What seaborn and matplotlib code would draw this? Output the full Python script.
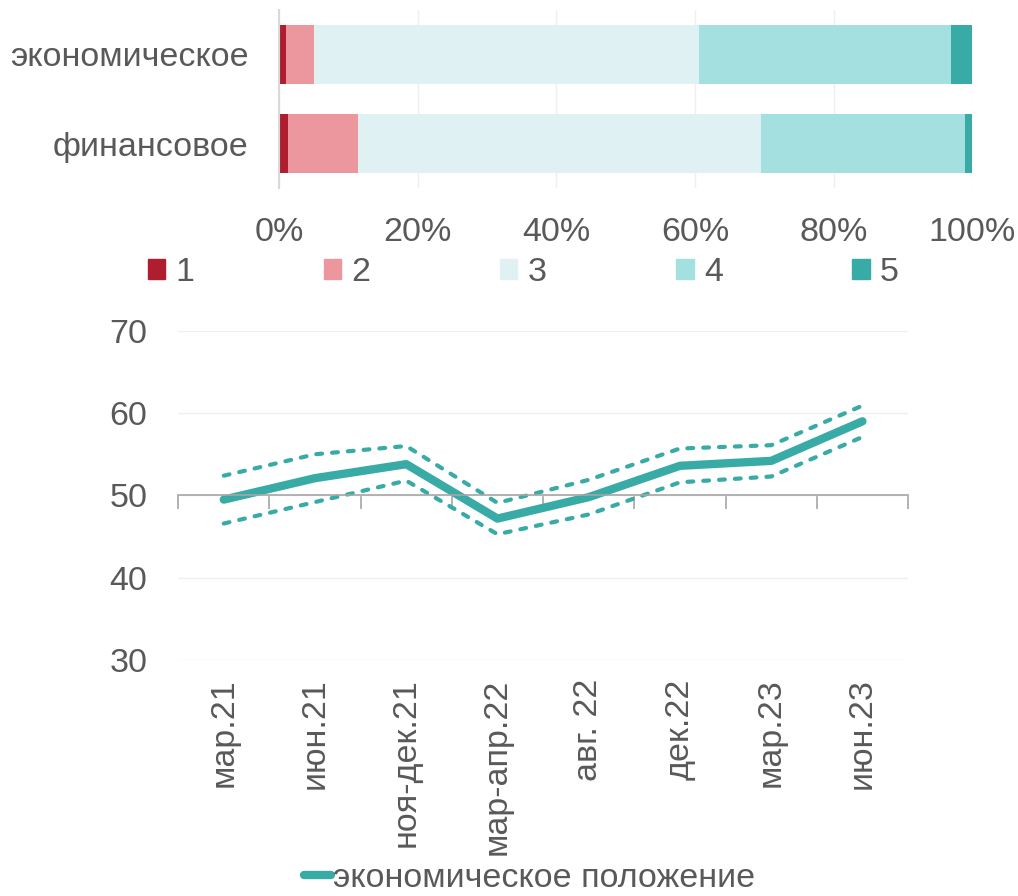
import numpy as np
import pandas as pd
import matplotlib
matplotlib.use('Agg')
import matplotlib.pyplot as plt
import matplotlib.patches as mpatches
import seaborn as sns

# data
situations = ['экономическое', 'финансовое']
grades = ['1', '2', '3', '4', '5']
share_1 = [1.0, 1.3]
share_2 = [4.0, 10.1]
share_3 = [55.6, 58.1]
share_4 = [36.4, 29.5]
share_5 = [3.0, 1.0]
grade_colors = ['#AF1E2E', '#EC979E', '#DFF1F3', '#A3E0DF', '#38ABA7']

periods = ['мар.21', 'июн.21', 'ноя-дек.21', 'мар-апр.22', 'авг. 22',
           'дек.22', 'мар.23', 'июн.23']
index_main = [49.5, 52.1, 53.8, 47.2, 49.8, 53.6, 54.2, 59.0]
index_upper = [52.4, 55.0, 56.0, 49.1, 51.9, 55.7, 56.1, 60.9]
index_lower = [46.6, 49.2, 51.8, 45.3, 47.7, 51.6, 52.3, 57.1]
line_label = 'экономическое положение'

sns.set_theme(style='white')
plt.rcParams['font.family'] = ['Liberation Sans', 'DejaVu Sans']
text_color = '#595959'
fs = 24.5
teal = '#38ABA7'

fig = plt.figure(figsize=(10.18, 8.96), dpi=100)

# ---- top: stacked bars ----
ax1 = fig.add_axes([0.274, 0.790, 0.681, 0.199])
shares = pd.DataFrame({'1': share_1, '2': share_2, '3': share_3,
                       '4': share_4, '5': share_5}, index=situations)
cum = shares.cumsum(axis=1)
# draw from the longest cumulative segment down so shorter ones sit on top
for g, c in reversed(list(zip(grades, grade_colors))):
    sns.barplot(x=cum[g].values, y=situations, color=c, orient='h',
                width=0.66, ax=ax1, saturation=1, edgecolor='none')
ax1.set_xlim(0, 100)
ax1.set_ylim(1.5, -0.5)
ax1.set_xticks(np.arange(0, 101, 20))
ax1.set_xticklabels([f'{v}%' for v in range(0, 101, 20)])
ax1.xaxis.grid(True, color='#EFEFEF', linewidth=1)
ax1.set_axisbelow(True)
for s in ['top', 'right', 'bottom']:
    ax1.spines[s].set_visible(False)
ax1.spines['left'].set_color('#D9D9D9')
ax1.spines['left'].set_linewidth(1.5)
ax1.tick_params(axis='x', length=0, pad=21, labelsize=fs, labelcolor=text_color)
ax1.tick_params(axis='y', length=0, pad=22, labelsize=fs, labelcolor=text_color)
ax1.set_xlabel('')
ax1.set_ylabel('')

handles = [mpatches.Patch(color=c, label=g) for g, c in zip(grades, grade_colors)]
fig.legend(handles=handles, loc='center', bbox_to_anchor=(0.514, 0.696), ncol=5,
           frameon=False, fontsize=fs, labelcolor=text_color,
           handlelength=0.52, handleheight=0.52, handletextpad=0.3,
           columnspacing=3.8)

# ---- bottom: line chart ----
ax2 = fig.add_axes([0.175, 0.263, 0.717, 0.368])
xpos = np.arange(len(periods))
sns.lineplot(x=xpos, y=index_upper, ax=ax2, color=teal, linewidth=3,
             linestyle=(0, (1.4, 2.4)), dash_capstyle='round')
sns.lineplot(x=xpos, y=index_lower, ax=ax2, color=teal, linewidth=3,
             linestyle=(0, (1.4, 2.4)), dash_capstyle='round')
sns.lineplot(x=xpos, y=index_main, ax=ax2, color=teal, linewidth=6,
             solid_capstyle='round', label=line_label)
ax2.set_xlim(-0.5, len(periods) - 0.5)
ax2.set_ylim(30, 70)
ax2.set_yticks(np.arange(30, 71, 10))
ax2.yaxis.grid(True, color='#EFEFEF', linewidth=1)
ax2.set_axisbelow(True)
for s in ['top', 'right', 'left']:
    ax2.spines[s].set_visible(False)
ax2.spines['bottom'].set_position(('data', 50))
ax2.spines['bottom'].set_color('#A6A6A6')
ax2.spines['bottom'].set_linewidth(1.2)
ax2.set_xticks(np.arange(len(periods) + 1) - 0.5)
ax2.tick_params(axis='x', bottom=True, direction='out', length=10, width=1.2,
                color='#A6A6A6', labelbottom=False)
ax2.tick_params(axis='y', length=0, pad=22, labelsize=fs, labelcolor=text_color)

sec = ax2.secondary_xaxis('bottom')
sec.set_xticks(xpos)
sec.set_xticklabels(periods, rotation=90)
sec.tick_params(length=0, pad=13, labelsize=fs, labelcolor=text_color)
sec.spines['bottom'].set_visible(False)

leg = ax2.get_legend()
if leg is not None:
    leg.remove()
main_handle = ax2.get_lines()[-1]
fig.legend(handles=[main_handle], labels=[line_label], loc='center',
           bbox_to_anchor=(0.52, 0.02), frameon=False, fontsize=fs,
           labelcolor=text_color, handlelength=0.8, handletextpad=0.05)

fig.savefig('out.png', dpi=100)
